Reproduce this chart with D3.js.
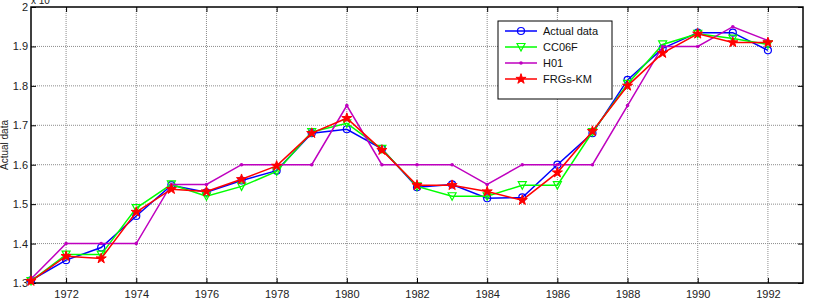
<!DOCTYPE html>
<html>
<head>
<meta charset="utf-8">
<script src="https://cdn.jsdelivr.net/npm/d3@7"></script>
<style>
  body { margin: 0; background: #fff; }
  svg text { font-family: "Liberation Sans", Arial, sans-serif; }
</style>
</head>
<body>
<div id="chart"></div>
<script>
// data (values x 10^n)
var years = d3.range(1971, 1993);
var actualData = [1.307,1.358,1.390,1.470,1.548,1.530,1.560,1.585,1.680,1.690,1.640,1.543,1.550,1.515,1.517,1.600,1.680,1.815,1.895,1.935,1.935,1.890];
var cc06f      = [1.305,1.372,1.372,1.490,1.550,1.520,1.545,1.583,1.683,1.705,1.640,1.545,1.520,1.520,1.548,1.548,1.683,1.805,1.905,1.932,1.920,1.905];
var h01        = [1.310,1.400,1.400,1.400,1.550,1.550,1.600,1.600,1.600,1.750,1.600,1.600,1.600,1.550,1.600,1.600,1.600,1.750,1.900,1.900,1.950,1.915];
var frgsKm     = [1.305,1.368,1.362,1.480,1.538,1.532,1.563,1.597,1.680,1.718,1.637,1.548,1.548,1.532,1.510,1.580,1.685,1.800,1.883,1.932,1.910,1.910];
var xTicks = [1972,1974,1976,1978,1980,1982,1984,1986,1988,1990,1992];
var yTicks = [1.3,1.4,1.5,1.6,1.7,1.8,1.9,2];

var series = [
  {name: "Actual data", values: actualData, color: "#0000ff", marker: "circle"},
  {name: "CC06F", values: cc06f, color: "#00ff00", marker: "triangle"},
  {name: "H01", values: h01, color: "#bf00bf", marker: "dot"},
  {name: "FRGs-KM", values: frgsKm, color: "#ff0000", marker: "star"}
];

var width = 813, height = 302;
var plotL = 31, plotR = 803, plotT = 7, plotB = 283;

var svg = d3.select("#chart").append("svg")
    .attr("width", width)
    .attr("height", height);

var xScale = d3.scaleLinear().domain([1971, 1993]).range([plotL, plotR]);
var yScale = d3.scaleLinear().domain([1.3, 2]).range([plotB, plotT]);

// grid
var grid = svg.append("g");
grid.selectAll(".gx").data(xTicks).enter().append("line")
    .attr("x1", function(d){ return xScale(d); })
    .attr("x2", function(d){ return xScale(d); })
    .attr("y1", plotT).attr("y2", plotB)
    .attr("stroke", "#8c8c8c").attr("stroke-width", 1)
    .attr("stroke-dasharray", "1,1");
grid.selectAll(".gy").data(yTicks.slice(1, -1)).enter().append("line")
    .attr("y1", function(d){ return yScale(d); })
    .attr("y2", function(d){ return yScale(d); })
    .attr("x1", plotL).attr("x2", plotR)
    .attr("stroke", "#8c8c8c").attr("stroke-width", 1)
    .attr("stroke-dasharray", "1,1");

// axes (ticks inside, matlab style)
var xAxis = d3.axisBottom(xScale).tickValues(xTicks).tickFormat(d3.format("d")).tickSize(-5).tickPadding(7);
var yAxis = d3.axisLeft(yScale).tickValues(yTicks).tickFormat(function(d){ return d === 2 ? "2" : d3.format(".1f")(d); }).tickSize(-5).tickPadding(3);

var gx = svg.append("g").attr("transform", "translate(0," + plotB + ")").call(xAxis);
var gy = svg.append("g").attr("transform", "translate(" + plotL + ",0)").call(yAxis);
var gxTop = svg.append("g").attr("transform", "translate(0," + plotT + ")")
    .call(d3.axisTop(xScale).tickValues(xTicks).tickSize(-5).tickFormat(""));
var gyRight = svg.append("g").attr("transform", "translate(" + plotR + ",0)")
    .call(d3.axisRight(yScale).tickValues(yTicks).tickSize(-5).tickFormat(""));

[gx, gy, gxTop, gyRight].forEach(function(g){
  g.select(".domain").remove();
  g.selectAll(".tick line").attr("stroke", "#000");
  g.selectAll(".tick text").attr("font-size", 11).attr("fill", "#222");
});

svg.append("rect")
    .attr("x", plotL).attr("y", plotT)
    .attr("width", plotR - plotL).attr("height", plotB - plotT)
    .attr("fill", "none").attr("stroke", "#000").attr("stroke-width", 1.5);

// exponent label, mostly cut off at the top
svg.append("text").attr("x", 31).attr("y", 4).attr("font-size", 10).attr("fill", "#222")
    .text("x 10").append("tspan").attr("dy", -5).attr("font-size", 8).text("4");

// y axis label
svg.append("text")
    .attr("transform", "translate(8," + ((plotT + plotB) / 2) + ") rotate(-90)")
    .attr("text-anchor", "middle")
    .attr("font-size", 10).attr("fill", "#222")
    .text("Actual data");

var line = d3.line()
    .x(function(d, i){ return xScale(years[i]); })
    .y(function(d){ return yScale(d); });

function drawMarker(g, type, color, x, y) {
  if (type === "circle") {
    g.append("circle").attr("cx", x).attr("cy", y).attr("r", 3.5)
        .attr("fill", "none").attr("stroke", color).attr("stroke-width", 1.2);
  } else if (type === "triangle") {
    g.append("path").attr("d", "M" + (x-4) + "," + (y-3.5) + "L" + (x+4) + "," + (y-3.5) + "L" + x + "," + (y+4) + "Z")
        .attr("fill", "none").attr("stroke", color).attr("stroke-width", 1.2);
  } else if (type === "dot") {
    g.append("circle").attr("cx", x).attr("cy", y).attr("r", 1.8).attr("fill", color);
  } else if (type === "star") {
    g.append("path").attr("transform", "translate(" + x + "," + y + ")")
        .attr("d", d3.symbol().type(d3.symbolStar).size(32)())
        .attr("fill", color).attr("stroke", color).attr("stroke-width", 1);
  }
}

series.forEach(function(s){
  var g = svg.append("g");
  g.append("path").attr("d", line(s.values))
      .attr("fill", "none").attr("stroke", s.color).attr("stroke-width", 1.5);
  s.values.forEach(function(v, i){
    drawMarker(g, s.marker, s.color, xScale(years[i]), yScale(v));
  });
});

// legend
var lg = svg.append("g");
lg.append("rect").attr("x", 498).attr("y", 21).attr("width", 114).attr("height", 78)
    .attr("fill", "#fff").attr("stroke", "#000").attr("stroke-width", 1);
series.forEach(function(s, i){
  var y = 31 + i * 16;
  lg.append("line").attr("x1", 505).attr("x2", 537).attr("y1", y).attr("y2", y)
      .attr("stroke", s.color).attr("stroke-width", 1.5);
  drawMarker(lg, s.marker, s.color, 521, y);
  lg.append("text").attr("x", 543).attr("y", y + 4).attr("font-size", 11).attr("fill", "#111").text(s.name);
});
</script>
</body>
</html>
